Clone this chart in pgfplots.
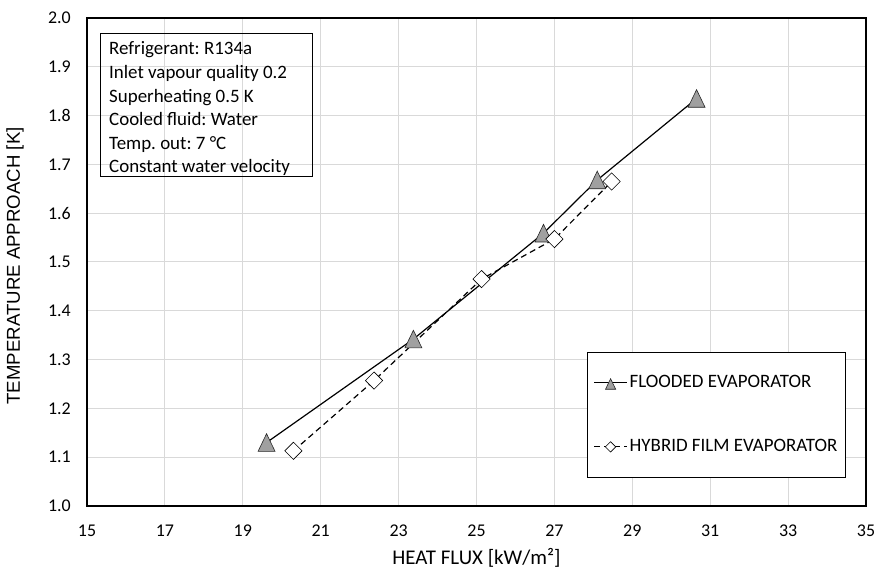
\documentclass[border=0pt]{standalone}
\usepackage{fontspec}
\setmainfont{Carlito}
\newfontfamily\arialf{Liberation Sans}
\usepackage{pgfplots}
\pgfplotsset{compat=1.18}
\definecolor{gridc}{RGB}{217,217,217}
\definecolor{trif}{RGB}{160,160,160}
\newcommand{\f}{\fontsize{19}{23.6}\selectfont}
\frenchspacing
\begin{document}
\frenchspacing
\begin{tikzpicture}
\begin{axis}[
  at={(0,0)}, anchor=south west,
  scale only axis, width=779bp, height=488bp,
  xmin=15, xmax=35, ymin=1.0, ymax=2.0,
  xtick={15,17,...,35},
  ytick={1.0,1.1,1.2,1.3,1.4,1.5,1.6,1.7,1.8,1.9,2.0},
  yticklabel={\pgfmathprintnumber[fixed,fixed zerofill,precision=1]{\tick}},
  /pgf/number format/assume math mode=true,
  tick label style={font=\fontsize{18}{22}\selectfont},
  major tick length=0pt,
  xmajorgrids, ymajorgrids,
  grid style={gridc, line width=1bp},
  axis line style={line width=1.6bp, black},
  xticklabel style={yshift=-15bp},
  yticklabel style={xshift=-12.7bp},
  xlabel={HEAT FLUX [kW/m²]},
  ylabel={TEMPERATURE APPROACH [K]},
  xlabel style={font=\fontsize{21}{25}\selectfont, at={(axis description cs:0.5,-0.1062)}, anchor=center},
  ylabel style={font=\arialf\fontsize{18.7}{22}\selectfont, at={(axis description cs:-0.0925,0.492)}, anchor=center},
  legend cell align=left,
  legend style={at={(rel axis cs:0.642,0.3156)}, anchor=north west,
    draw=black, line width=0.75bp, font=\f,
    inner xsep=6bp, inner ysep=20bp, row sep=43bp,
    nodes={inner sep=2bp, text height=13bp, text depth=4bp}},
  legend image code/.code={\draw[mark repeat=2,mark phase=2, every mark/.append style={scale=0.6}] plot coordinates {(0bp,0bp)(16.5bp,0bp)(33bp,0bp)};},
]
\addplot[black, line width=1.2bp, mark=triangle*, mark size=9.8bp,
  mark options={fill=trif, draw=black!85, line width=0.6bp, yshift=-2.9bp, yscale=1.2}]
  coordinates {(19.61,1.130)(23.38,1.342)(26.72,1.559)(28.10,1.668)(30.65,1.835)};
\addlegendentry{FLOODED EVAPORATOR}
\addplot[black, line width=1.2bp, dash pattern=on 6bp off 4bp, mark=square*, mark size=6.1bp,
  mark options={fill=white, rotate=45, solid, line width=0.6bp}]
  coordinates {(20.30,1.113)(22.37,1.257)(25.13,1.465)(27.00,1.547)(28.47,1.665)};
\addlegendentry{HYBRID FILM EVAPORATOR}
\end{axis}
\begin{scope}
\clip (13bp,330bp) rectangle (225bp,473bp);
\node[anchor=base west, inner sep=0pt, font=\f] at (22bp,451bp) {Refrigerant: R134a};
\node[anchor=base west, inner sep=0pt, font=\f] at (22bp,427.4bp) {Inlet vapour quality 0.2};
\node[anchor=base west, inner sep=0pt, font=\f] at (22bp,403.8bp) {Superheating 0.5 K};
\node[anchor=base west, inner sep=0pt, font=\f] at (22bp,380.2bp) {Cooled fluid: Water};
\node[anchor=base west, inner sep=0pt, font=\f] at (22bp,356.6bp) {Temp. out: 7 °C};
\node[anchor=base west, inner sep=0pt, font=\f] at (22bp,333bp) {Constant water velocity};
\end{scope}
\draw[black, line width=0.75bp, fill=none] (13bp,330bp) rectangle (225bp,473bp);
\pgfresetboundingbox
\useasboundingbox (-87bp,-64bp) rectangle (789bp,506bp);
\end{tikzpicture}
\end{document}
